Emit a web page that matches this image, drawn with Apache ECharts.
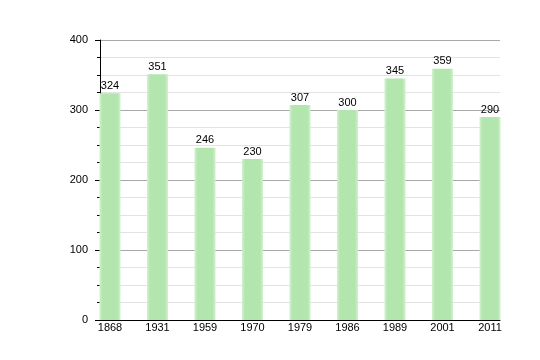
<!DOCTYPE html>
<html><head><meta charset="utf-8">
<script src="https://cdn.jsdelivr.net/npm/echarts@6/dist/echarts.min.js"></script>
<style>html,body{margin:0;padding:0;background:#fff}#c{width:540px;height:360px}</style>
</head><body><div id="c"></div>
<script>
const categories = ['1868','1931','1959','1970','1979','1986','1989','2001','2011'];
const values = [324, 351, 246, 230, 307, 300, 345, 359, 290];
const yTicks = [0, 100, 200, 300, 400];

const chart = echarts.init(document.getElementById('c'), null, {renderer:'canvas'});
const font = 'Liberation Sans, Arial, sans-serif';
chart.setOption({
  animation: false,
  grid: [
    {left: 100, top: 40, width: 400, height: 280},
    {left: 110, top: 40, width: 380, height: 280}
  ],
  xAxis: [
    {gridIndex: 0, type: 'value', min: 0, max: 1,
     axisLine: {show: true, onZero: false, lineStyle: {color: '#000', width: 1}},
     axisTick: {show: false}, axisLabel: {show: false}, splitLine: {show: false}},
    {gridIndex: 1, type: 'category', data: categories, boundaryGap: false,
     axisLine: {show: false}, axisTick: {show: false},
     axisLabel: {color: '#000', fontSize: 11, fontFamily: font, margin: 2, interval: 0},
     splitLine: {show: false}}
  ],
  yAxis: [
    {gridIndex: 0, type: 'value', min: yTicks[0], max: yTicks[yTicks.length-1], interval: 100,
     axisLine: {show: true, lineStyle: {color: '#000', width: 1}},
     axisTick: {show: true, length: 5, lineStyle: {color: '#000'}},
     minorTick: {show: true, splitNumber: 4, length: 3, lineStyle: {color: '#000'}},
     axisLabel: {color: '#000', fontSize: 11, fontFamily: font, margin: 12},
     splitLine: {show: true, lineStyle: {color: '#a8a8a8', width: 1}},
     minorSplitLine: {show: true, lineStyle: {color: '#e2e2e2', width: 1}}},
    {gridIndex: 1, type: 'value', min: 0, max: 400, show: false, splitLine: {show: false}}
  ],
  series: [{
    type: 'bar', xAxisIndex: 1, yAxisIndex: 1, data: values, barWidth: 21,
    itemStyle: {color: new echarts.graphic.LinearGradient(0, 0, 1, 0, [
      {offset: 0, color: '#d2f1ce'}, {offset: 0.15, color: '#b3e5ae'},
      {offset: 0.85, color: '#b3e5ae'}, {offset: 1, color: '#d2f1ce'}])},
    label: {show: true, position: 'top', color: '#000', fontSize: 11, fontFamily: font, distance: 2}
  }]
});
</script></body></html>
